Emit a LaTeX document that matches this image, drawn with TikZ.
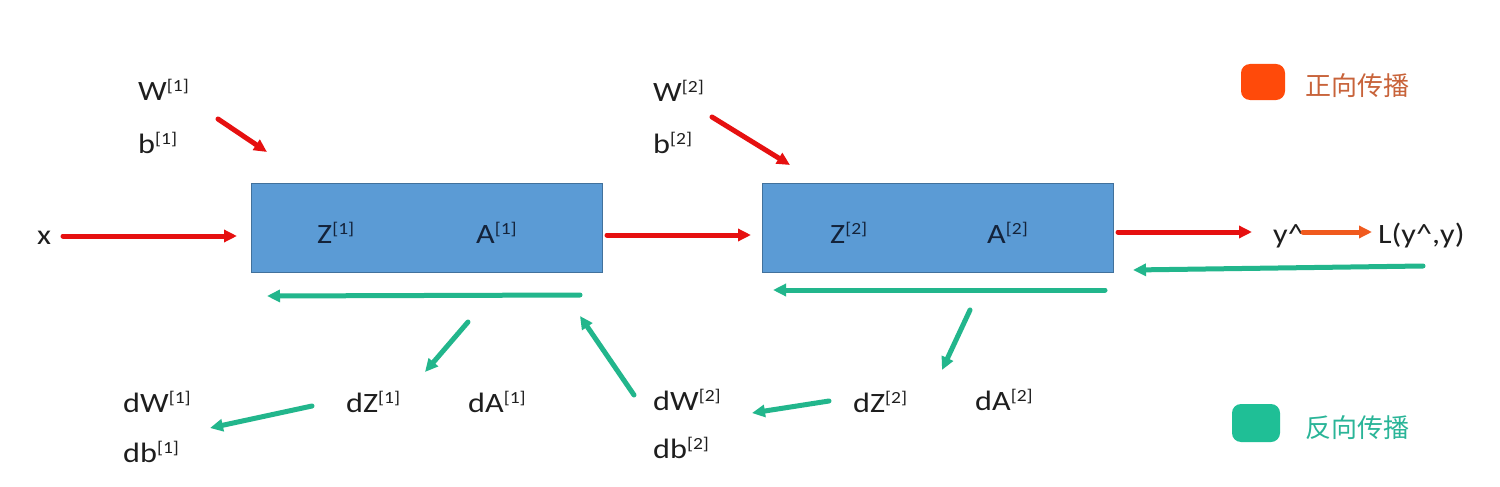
\documentclass[tikz,border=0pt]{standalone}
\usepackage{fontspec}
\setmainfont{Carlito}[FakeStretch=1.15]
\newfontfamily\cjk{Noto Sans CJK SC}
\usetikzlibrary{arrows.meta}
\definecolor{fwdc}{HTML}{E61010}
\definecolor{lossc}{HTML}{F05A1E}
\definecolor{bwdc}{HTML}{22B68C}
\definecolor{boxfill}{HTML}{5B9BD5}
\definecolor{boxline}{HTML}{41719C}
\definecolor{textc}{HTML}{1E1E1E}
\definecolor{intext}{HTML}{14233A}
\definecolor{legfwd}{HTML}{FF4A0A}
\definecolor{legfwdtxt}{HTML}{C8633A}
\definecolor{legbwd}{HTML}{1FBF96}
\definecolor{legbwdtxt}{HTML}{2AB598}
\newcommand\sups[1]{\raisebox{9pt}{\fontsize{17}{17}\selectfont #1}}
\begin{document}
\begin{tikzpicture}[x=1pt,y=-1pt,
  lbl/.style={anchor=base west,inner sep=0pt,font=\fontsize{28}{30}\selectfont,text=textc},
  inlbl/.style={lbl,text=intext},
  layer/.style={draw=boxline,line width=1pt,fill=boxfill,minimum width=351pt,minimum height=89pt,inner sep=0pt},
  arr/.style={line width=5pt,line cap=round,-{Triangle[length=13pt,width=12pt]}},
  fwdarr/.style={arr,draw=fwdc},
  lossarr/.style={arr,draw=lossc},
  bwdarr/.style={arr,draw=bwdc},
  legtxt/.style={anchor=west,inner sep=0pt,font=\cjk\fontsize{26}{28}\selectfont}]
\useasboundingbox (0,0) rectangle (1500,487);
\fill[white] (0,0) rectangle (1500,487);
% layers
\node[layer] (L1) at (426.5,227.5) {};
\node[layer] (L2) at (938,227.5) {};
% labels
\node[lbl] (w1) at (138,100) {W\sups{[1]}};
\node[lbl] (b1) at (138,153) {b\sups{[1]}};
\node[lbl] (xin) at (37,244) {x};
\node[lbl] (w2) at (653,101) {W\sups{[2]}};
\node[lbl] (b2) at (653,153) {b\sups{[2]}};
\node[inlbl] (z1) at (317,243) {Z\sups{[1]}};
\node[inlbl] (a1) at (476,243) {A\sups{[1]}};
\node[inlbl] (z2) at (830,243) {Z\sups{[2]}};
\node[inlbl] (a2) at (987,243) {A\sups{[2]}};
\node[lbl] (yhat) at (1273,243) {y\textasciicircum};
\node[lbl] (loss) at (1378,243) {L(y\textasciicircum,y)};
\node[lbl] (dw1) at (123,412) {dW\sups{[1]}};
\node[lbl] (db1) at (123,462) {db\sups{[1]}};
\node[lbl] (dz1) at (346,412) {dZ\sups{[1]}};
\node[lbl] (da1) at (468,412) {dA\sups{[1]}};
\node[lbl] (dw2) at (653,410) {dW\sups{[2]}};
\node[lbl] (db2) at (653,458) {db\sups{[2]}};
\node[lbl] (dz2) at (853,412) {dZ\sups{[2]}};
\node[lbl] (da2) at (975,410) {dA\sups{[2]}};
% arrow end points
\coordinate (f1s) at (63,236);   \coordinate (f1e) at (237,236);
\coordinate (f2s) at (218,119);  \coordinate (f2e) at (267,152);
\coordinate (f3s) at (607,235);  \coordinate (f3e) at (751,235);
\coordinate (f4s) at (712,117);  \coordinate (f4e) at (790,165);
\coordinate (f5s) at (1118,232); \coordinate (f5e) at (1252,232);
\coordinate (l1s) at (1303,232); \coordinate (l1e) at (1372,232);
\coordinate (g1s) at (1423,266); \coordinate (g1e) at (1133,270);
\coordinate (g2s) at (580,295);  \coordinate (g2e) at (267,296);
\coordinate (g3s) at (1105,290); \coordinate (g3e) at (773,290);
\coordinate (g4s) at (468,322);  \coordinate (g4e) at (425,372);
\coordinate (g5s) at (312,406);  \coordinate (g5e) at (210,428);
\coordinate (g6s) at (634,395);  \coordinate (g6e) at (580,316);
\coordinate (g7s) at (829,401);  \coordinate (g7e) at (752,413);
\coordinate (g8s) at (970,310);  \coordinate (g8e) at (942,370);
% forward arrows
\draw[fwdarr] (f1s) -- (f1e);
\draw[fwdarr] (f2s) -- (f2e);
\draw[fwdarr] (f3s) -- (f3e);
\draw[fwdarr] (f4s) -- (f4e);
\draw[fwdarr] (f5s) -- (f5e);
\draw[lossarr] (l1s) -- (l1e);
% backward arrows
\draw[bwdarr] (g1s) -- (g1e);
\draw[bwdarr] (g2s) -- (g2e);
\draw[bwdarr] (g3s) -- (g3e);
\draw[bwdarr] (g4s) -- (g4e);
\draw[bwdarr] (g5s) -- (g5e);
\draw[bwdarr] (g6s) -- (g6e);
\draw[bwdarr] (g7s) -- (g7e);
\draw[bwdarr] (g8s) -- (g8e);
% legend
\fill[legfwd,rounded corners=9pt] (1241,64) rectangle (1285,100);
\node[legtxt,text=legfwdtxt] (legf) at (1305,86) {正向传播};
\fill[legbwd,rounded corners=9pt] (1232,404) rectangle (1280,442);
\node[legtxt,text=legbwdtxt] (legb) at (1305,428) {反向传播};
\end{tikzpicture}
\end{document}
